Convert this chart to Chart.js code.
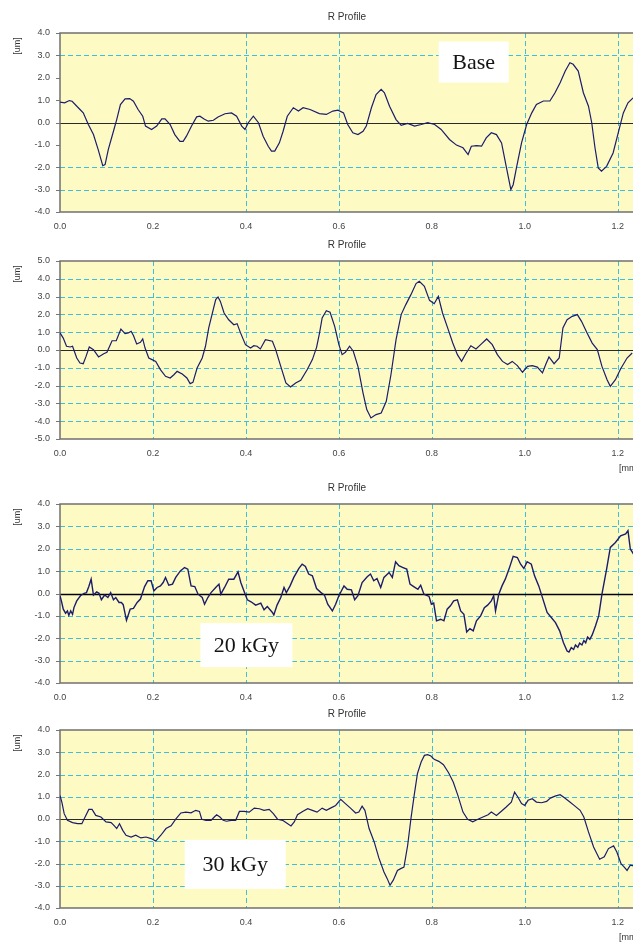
<!DOCTYPE html>
<html>
<head>
<meta charset="utf-8">
<title>R Profile</title>
<script src="https://cdn.jsdelivr.net/npm/chart.js@4.4.1/dist/chart.umd.min.js"></script>
<style>
  html, body { margin: 0; padding: 0; background: #ffffff; }
  body { width: 633px; height: 942px; position: relative; overflow: hidden; }
  .panel { position: absolute; left: 0; width: 633px; overflow: hidden; background: #fff; }
  .panel canvas { position: absolute; left: 0; top: 0; }
</style>
</head>
<body>
<div class="panel" style="top:0px;height:230px"><canvas id="p1" width="700" height="252"></canvas></div>
<div class="panel" style="top:230px;height:245px"><canvas id="p2" width="700" height="249"></canvas></div>
<div class="panel" style="top:475px;height:227px"><canvas id="p3" width="700" height="248"></canvas></div>
<div class="panel" style="top:702px;height:240px"><canvas id="p4" width="700" height="246"></canvas></div>
<script>
// tick labels
const xTicks = [0.0, 0.2, 0.4, 0.6, 0.8, 1.0, 1.2];
const yTicks4 = [4, 3, 2, 1, 0, -1, -2, -3, -4];
const yTicks5 = [5, 4, 3, 2, 1, 0, -1, -2, -3, -4, -5];

// profile 1 (Base): position [mm], height [um]
const baseX = [
  0.000,0.010,0.020,0.026,0.043,0.050,0.061,0.072,0.082,0.092,
  0.097,0.104,0.115,0.122,0.130,0.140,0.150,0.158,0.168,0.178,
  0.184,0.197,0.208,0.219,0.226,0.237,0.247,0.258,0.265,0.272,
  0.283,0.294,0.301,0.310,0.319,0.330,0.340,0.355,0.369,0.380,
  0.391,0.398,0.405,0.416,0.427,0.437,0.448,0.455,0.462,0.472,
  0.480,0.489,0.502,0.513,0.523,0.538,0.558,0.573,0.587,0.598,
  0.610,0.619,0.630,0.641,0.652,0.659,0.670,0.680,0.691,0.698,
  0.709,0.723,0.734,0.748,0.763,0.777,0.791,0.806,0.820,0.838,
  0.853,0.867,0.878,0.885,0.896,0.907,0.917,0.928,0.939,0.950,
  0.960,0.970,0.975,0.982,0.993,1.004,1.015,1.025,1.040,1.054,
  1.065,1.076,1.087,1.097,1.104,1.115,1.126,1.137,1.144,1.151,
  1.158,1.165,1.176,1.190,1.201,1.212,1.222,1.233];
const baseY = [
  0.91,0.88,0.98,0.95,0.58,0.43,-0.09,-0.54,-1.20,-1.93,
  -1.88,-1.20,-0.39,0.13,0.80,1.06,1.07,0.95,0.58,0.28,
  -0.16,-0.31,-0.16,0.16,0.16,-0.09,-0.54,-0.84,-0.84,-0.61,
  -0.16,0.25,0.28,0.16,0.06,0.10,0.25,0.39,0.43,0.28,
  -0.16,-0.31,-0.01,0.28,-0.01,-0.61,-1.06,-1.28,-1.28,-0.91,
  -0.39,0.28,0.66,0.51,0.66,0.58,0.40,0.36,0.51,0.55,
  0.43,-0.09,-0.46,-0.54,-0.39,-0.16,0.66,1.25,1.48,1.33,
  0.73,0.13,-0.13,-0.04,-0.16,-0.09,-0.01,-0.09,-0.31,-0.76,
  -1.01,-1.13,-1.43,-1.06,-1.03,-1.06,-0.69,-0.46,-0.54,-0.91,
  -1.96,-3.00,-2.78,-2.03,-0.91,-0.09,0.43,0.81,0.96,0.96,
  1.33,1.78,2.30,2.67,2.60,2.30,1.33,0.73,-0.01,-1.13,
  -2.03,-2.18,-1.96,-1.36,-0.46,0.43,0.88,1.10];

// profile 2 (unlabelled)
const secondX = [
  0.000,0.007,0.014,0.022,0.027,0.036,0.043,0.050,0.056,0.063,
  0.072,0.083,0.094,0.101,0.112,0.121,0.131,0.140,0.147,0.153,
  0.158,0.165,0.173,0.178,0.183,0.191,0.198,0.206,0.216,0.227,
  0.237,0.245,0.252,0.263,0.273,0.280,0.286,0.295,0.306,0.313,
  0.320,0.327,0.335,0.340,0.345,0.353,0.363,0.374,0.381,0.388,
  0.399,0.410,0.417,0.424,0.431,0.442,0.457,0.464,0.475,0.486,
  0.496,0.507,0.518,0.532,0.543,0.552,0.558,0.564,
  0.573,0.581,0.591,0.600,0.607,0.614,0.623,0.631,0.641,0.652,
  0.660,0.669,0.680,0.691,0.702,0.712,0.723,0.734,0.744,0.755,
  0.766,0.773,0.784,0.795,0.805,0.814,0.823,0.834,0.845,0.855,
  0.864,0.873,0.884,0.895,0.905,0.918,0.930,0.941,0.952,0.963,
  0.973,0.984,0.995,1.006,1.016,1.027,1.038,1.045,1.052,1.063,
  1.074,1.082,1.091,1.102,1.113,1.122,1.134,1.145,1.156,1.166,
  1.177,1.184,1.195,1.206,1.220,1.231];
const secondY = [
  0.96,0.67,0.21,0.17,0.21,-0.45,-0.73,-0.77,-0.36,0.17,
  0.02,-0.39,-0.21,-0.13,0.52,0.52,1.18,0.92,0.96,1.05,
  0.81,0.34,0.43,0.62,0.11,-0.45,-0.54,-0.64,-1.10,-1.48,
  -1.57,-1.39,-1.20,-1.35,-1.57,-1.89,-1.82,-1.01,-0.45,0.21,
  1.24,1.99,2.83,2.98,2.73,2.08,1.70,1.42,1.48,0.99,
  0.30,0.11,0.24,0.21,0.06,0.58,0.49,0.02,-0.92,-1.85,
  -2.08,-1.85,-1.70,-1.10,-0.54,0.15,0.90,1.80,
  2.21,2.12,1.33,0.30,-0.26,-0.13,0.21,-0.07,-0.92,-2.42,
  -3.35,-3.82,-3.63,-3.54,-2.88,-1.39,0.58,1.99,2.55,3.11,
  3.73,3.86,3.58,2.79,2.60,3.01,2.08,1.24,0.39,-0.26,
  -0.64,-0.21,0.24,0.06,0.30,0.62,0.30,-0.26,-0.64,-0.82,
  -0.64,-0.88,-1.25,-0.92,-0.88,-0.96,-1.29,-0.82,-0.39,-0.77,
  -0.45,1.24,1.70,1.89,1.99,1.61,0.96,0.39,0.02,-0.92,
  -1.67,-2.04,-1.67,-1.07,-0.45,-0.17];

// profile 3 (20 kGy)
const kgy20X = [
  0.000,0.003,0.007,0.012,0.016,0.019,0.023,0.027,0.030,0.036,
  0.044,0.052,0.057,0.062,0.067,0.072,0.079,0.084,0.089,0.096,
  0.103,0.109,0.115,0.120,0.127,0.132,0.136,0.143,0.151,0.158,
  0.166,0.173,0.182,0.189,0.196,0.202,0.209,0.216,0.222,0.227,
  0.234,0.242,0.249,0.259,0.268,0.275,0.282,0.290,0.297,0.306,
  0.311,0.318,0.325,0.335,0.342,0.346,0.354,0.363,0.374,0.383,
  0.389,0.397,0.403,0.411,0.421,0.432,0.439,0.446,0.457,0.460,
  0.467,0.475,0.482,0.487,0.495,0.503,0.514,0.521,0.528,0.535,
  0.543,0.552,0.561,0.569,0.576,0.586,0.593,0.600,0.611,0.618,
  0.627,0.634,0.641,0.650,0.661,0.668,0.675,0.682,0.690,0.697,
  0.708,0.715,0.722,0.729,0.738,0.746,0.753,0.761,0.770,0.776,
  0.783,0.794,0.799,0.804,0.810,0.819,0.826,0.833,0.840,0.847,
  0.855,0.862,0.869,0.875,0.882,0.889,0.896,0.905,0.913,0.920,
  0.928,0.933,0.937,0.944,0.951,0.958,0.966,0.975,0.984,0.991,
  0.998,1.005,1.014,1.021,1.030,1.039,1.048,1.057,1.066,1.075,
  1.083,1.091,1.095,1.100,1.105,1.109,1.114,1.118,1.123,1.127,
  1.131,1.135,1.140,1.145,1.152,1.159,1.166,1.176,1.184,1.195,
  1.206,1.217,1.222,1.227,1.234];
const kgy20Y = [
  -0.10,-0.33,-0.70,-0.88,-0.78,-0.97,-0.78,-0.93,-0.63,-0.33,
  -0.10,0.01,0.04,0.31,0.64,-0.07,0.07,0.01,-0.28,-0.07,
  -0.18,0.04,-0.28,-0.18,-0.40,-0.40,-0.50,-1.20,-0.70,-0.67,
  -0.40,-0.25,0.31,0.57,0.57,0.12,0.27,0.34,0.49,0.72,
  0.37,0.42,0.72,1.01,1.16,1.09,0.34,0.31,-0.03,-0.18,
  -0.48,-0.18,0.04,0.27,0.42,-0.03,0.27,0.64,0.64,0.97,
  0.49,0.04,-0.28,-0.37,-0.52,-0.43,-0.73,-0.58,-0.85,-0.96,
  -0.52,-0.18,0.27,0.04,0.34,0.72,1.12,1.31,1.21,0.87,
  0.79,0.22,0.05,-0.07,-0.48,-0.78,-0.48,-0.10,0.34,0.19,
  0.16,-0.28,-0.10,0.49,0.75,0.87,0.57,0.67,0.27,0.72,
  0.94,0.72,1.42,1.24,1.16,1.09,0.42,0.31,0.19,0.37,
  -0.03,-0.13,-0.48,-0.43,-1.22,-1.15,-1.22,-0.70,-0.55,-0.33,
  -0.28,-0.78,-0.93,-1.72,-1.57,-1.67,-1.22,-1.00,-0.63,-0.52,
  -0.33,-0.10,-0.78,-0.03,0.34,0.64,1.09,1.66,1.61,1.31,
  1.12,1.42,1.31,0.79,0.34,-0.25,-0.85,-1.07,-1.30,-1.67,
  -2.19,-2.57,-2.62,-2.42,-2.50,-2.30,-2.40,-2.22,-2.30,-2.10,
  -2.20,-1.95,-2.05,-1.85,-1.45,-1.00,-0.03,1.09,2.06,2.28,
  2.58,2.66,2.81,1.99,1.76];

// profile 4 (30 kGy)
const kgy30X = [
  0.000,0.004,0.009,0.016,0.027,0.038,0.047,0.054,0.062,0.069,
  0.077,0.088,0.099,0.110,0.117,0.122,0.128,0.135,0.142,0.153,
  0.163,0.174,0.185,0.196,0.206,0.217,0.228,0.239,0.249,0.260,
  0.271,0.282,0.292,0.300,0.305,0.314,0.325,0.332,0.337,0.344,
  0.351,0.358,0.368,0.378,0.386,0.396,0.407,0.418,0.429,0.439,
  0.450,0.459,0.468,0.479,0.486,0.497,0.504,0.511,0.522,0.533,
  0.543,0.553,0.564,0.573,0.582,0.593,0.604,0.614,0.625,0.636,
  0.643,0.650,0.656,0.665,0.676,0.686,0.697,0.704,0.710,0.717,
  0.726,0.733,0.740,0.748,0.755,0.762,0.769,0.777,0.784,0.791,
  0.798,0.805,0.815,0.825,0.836,0.846,0.856,0.867,0.877,0.888,
  0.899,0.910,0.921,0.928,0.939,0.949,0.960,0.971,0.978,0.985,
  0.993,1.000,1.007,1.016,1.025,1.036,1.047,1.055,1.065,1.076,
  1.086,1.097,1.108,1.119,1.127,1.137,1.148,1.161,1.171,1.180,
  1.191,1.198,1.207,1.214,1.220,1.227,1.234];
const kgy30Y = [
  1.06,0.76,0.24,-0.06,-0.16,-0.21,-0.21,0.09,0.43,0.43,
  0.16,0.09,-0.13,-0.16,-0.31,-0.43,-0.21,-0.51,-0.73,-0.81,
  -0.73,-0.85,-0.81,-0.88,-0.99,-0.73,-0.43,-0.31,-0.01,0.27,
  0.31,0.28,0.39,0.34,-0.01,-0.06,-0.06,0.09,0.19,0.09,
  -0.06,-0.10,-0.06,-0.06,0.34,0.34,0.31,0.49,0.46,0.39,
  0.43,0.24,-0.01,-0.06,-0.16,-0.31,-0.13,0.19,0.34,0.46,
  0.39,0.31,0.49,0.39,0.49,0.61,0.88,0.69,0.49,0.27,
  0.31,0.58,0.39,-0.43,-1.03,-1.75,-2.38,-2.68,-2.98,-2.75,
  -2.31,-2.23,-2.16,-1.18,0.01,1.06,2.04,2.56,2.86,2.89,
  2.83,2.68,2.59,2.44,2.08,1.66,1.06,0.31,-0.01,-0.13,
  -0.01,0.09,0.19,0.31,0.16,0.34,0.54,0.76,1.21,0.99,
  0.69,0.61,0.84,0.91,0.76,0.73,0.79,0.94,1.03,1.09,
  0.94,0.76,0.58,0.39,0.09,-0.58,-1.26,-1.81,-1.70,-1.33,
  -1.21,-1.48,-2.01,-2.16,-2.31,-2.08,-2.11];

const FONT = '"Liberation Sans", Arial, sans-serif';
const GRID = '#3fbfd9';

const near = (list, v) => list.some(t => Math.abs(t - v) < 1e-6);

// background, grid, frame, zero line, label boxes and the small texts
const profileFrame = {
  id: 'profileFrame',
  beforeDraw(chart) {
    const {ctx, chartArea: a} = chart;
    ctx.save();
    ctx.fillStyle = '#fdfbc3';
    ctx.fillRect(a.left, a.top, a.right - a.left, a.bottom - a.top);
    ctx.restore();
  },
  beforeDatasetsDraw(chart, args, o) {
    const {ctx, chartArea: a, scales: {x, y}} = chart;
    ctx.save();
    // dashed grid at the scale ticks, skipping the frame edges and the lines lost in the scan
    ctx.strokeStyle = GRID;
    ctx.lineWidth = 1;
    ctx.setLineDash([5, 3]);
    x.ticks.forEach(t => {
      if (near([0], t.value) || near(o.hideX, t.value)) return;
      const px = Math.round(x.getPixelForValue(t.value)) + 0.5;
      ctx.beginPath();
      ctx.moveTo(px, a.top);
      ctx.lineTo(px, a.bottom);
      ctx.stroke();
    });
    y.ticks.forEach(t => {
      if (near([0, y.min, y.max], t.value) || near(o.hideY, t.value)) return;
      const py = Math.round(y.getPixelForValue(t.value)) + 0.5;
      ctx.beginPath();
      ctx.moveTo(a.left, py);
      ctx.lineTo(a.right, py);
      ctx.stroke();
    });
    ctx.setLineDash([]);
    // small tick marks left of the axis
    ctx.strokeStyle = '#777';
    y.ticks.forEach(t => {
      const py = Math.round(y.getPixelForValue(t.value)) + 0.5;
      ctx.beginPath();
      ctx.moveTo(a.left - 4, py);
      ctx.lineTo(a.left, py);
      ctx.stroke();
    });
    const y0 = Math.round(y.getPixelForValue(0)) + 0.5;
    ctx.strokeStyle = o.zeroColor;
    ctx.lineWidth = o.zeroWidth;
    ctx.beginPath();
    ctx.moveTo(a.left, y0);
    ctx.lineTo(a.right, y0);
    ctx.stroke();
    ctx.strokeStyle = '#707070';
    ctx.lineWidth = 1.5;
    ctx.beginPath();
    ctx.moveTo(a.right, a.top);
    ctx.lineTo(a.left, a.top);
    ctx.lineTo(a.left, a.bottom);
    ctx.lineTo(a.right, a.bottom);
    ctx.stroke();
    ctx.restore();
  },
  afterDatasetsDraw(chart, args, o) {
    if (!o.note) return;
    const {ctx, scales: {x, y}} = chart;
    const cx = x.getPixelForValue(o.note.x);
    const cy = y.getPixelForValue(o.note.y);
    ctx.save();
    ctx.fillStyle = '#ffffff';
    ctx.fillRect(cx - o.note.w / 2, cy - o.note.h / 2, o.note.w, o.note.h);
    ctx.fillStyle = '#141414';
    ctx.font = '22px "Liberation Serif", "Times New Roman", serif';
    ctx.textAlign = 'center';
    ctx.textBaseline = 'middle';
    ctx.fillText(o.note.text, cx, cy + 1);
    ctx.restore();
  },
  afterDraw(chart) {
    const {ctx, chartArea: a} = chart;
    ctx.save();
    ctx.fillStyle = '#333333';
    ctx.textBaseline = 'middle';
    ctx.textAlign = 'center';
    ctx.font = '10px ' + FONT;
    ctx.fillText('R Profile', 347, a.top - 16);
    ctx.font = '9px ' + FONT;
    ctx.textAlign = 'left';
    ctx.fillText('[mm]', 619, a.bottom + 29.5);
    ctx.translate(18, a.top + 13);
    ctx.rotate(-Math.PI / 2);
    ctx.textAlign = 'center';
    ctx.fillText('[um]', 0, 0);
    ctx.restore();
  }
};

function makeProfile(id, xs, ys, yTicks, opt) {
  const canvas = document.getElementById(id);
  return new Chart(canvas, {
    type: 'line',
    data: {
      datasets: [{
        data: xs.map((v, i) => ({x: v, y: ys[i]})),
        borderColor: '#1c1c6e',
        borderWidth: opt.lineWidth || 1.2,
        pointRadius: 0,
        tension: 0,
        fill: false
      }]
    },
    options: {
      responsive: false,
      animation: false,
      events: [],
      layout: {padding: {top: opt.top, right: 59, left: 0, bottom: 0}},
      plugins: {
        legend: {display: false},
        tooltip: {enabled: false},
        profileFrame: {
          note: opt.note, hideX: opt.hideX || [], hideY: opt.hideY || [],
          zeroColor: opt.zeroColor || '#2a2a2a', zeroWidth: opt.zeroWidth || 1
        }
      },
      scales: {
        x: {
          type: 'linear',
          min: 0,
          max: 1.25,
          afterBuildTicks: s => { s.ticks = xTicks.map(v => ({value: v})); },
          afterFit: s => { s.height = canvas.height - opt.bottom; },
          ticks: {
            autoSkip: false, maxRotation: 0, padding: 9, color: '#444',
            font: {family: FONT, size: 9},
            callback: v => Number(v).toFixed(1)
          },
          grid: {display: false, drawTicks: false},
          border: {display: false}
        },
        y: {
          type: 'linear',
          min: yTicks[yTicks.length - 1],
          max: yTicks[0],
          afterBuildTicks: s => { s.ticks = yTicks.map(v => ({value: v})); },
          afterFit: s => { s.width = 60; },
          ticks: {
            padding: 10, color: '#444',
            font: {family: FONT, size: 9},
            callback: v => Number(v).toFixed(1)
          },
          grid: {display: false, drawTicks: false},
          border: {display: false}
        }
      }
    },
    plugins: [profileFrame]
  });
}

makeProfile('p1', baseX, baseY, yTicks4, {
  top: 33, bottom: 212, hideX: [0.2, 0.8], hideY: [2, 1, -1],
  note: {text: 'Base', x: 0.89, y: 2.7, w: 70, h: 41}
});
makeProfile('p2', secondX, secondY, yTicks5, {top: 31, bottom: 209});
makeProfile('p3', kgy20X, kgy20Y, yTicks4, {
  top: 29, bottom: 208, lineWidth: 1.4, zeroColor: '#000', zeroWidth: 1.5,
  note: {text: '20 kGy', x: 0.401, y: -2.31, w: 92, h: 44}
});
makeProfile('p4', kgy30X, kgy30Y, yTicks4, {
  top: 28, bottom: 206,
  note: {text: '30 kGy', x: 0.377, y: -2.04, w: 101, h: 49}
});
</script>
</body>
</html>
